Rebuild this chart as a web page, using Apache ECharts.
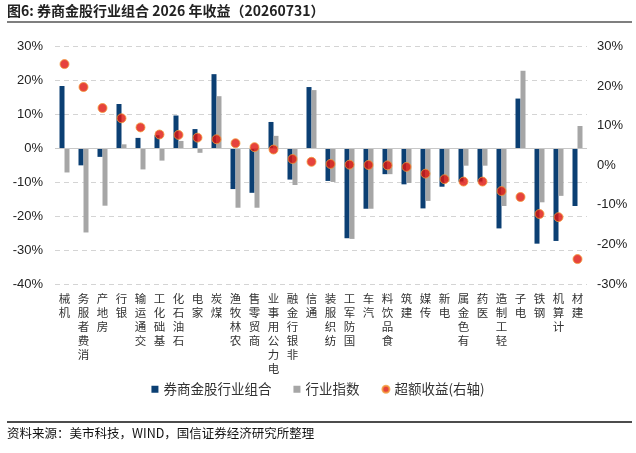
<!DOCTYPE html>
<html>
<head>
<meta charset="utf-8">
<script src="https://cdn.jsdelivr.net/npm/echarts@6/dist/echarts.min.js"></script>
<style>
html,body{margin:0;padding:0;background:#fff;}
#chart{width:636px;height:453px;}
</style>
</head>
<body>
<div id="chart"></div>
<script>
var categories = ['机械','消费者服务','房地产','银行','交通运输','基础化工','石油石化','家电','煤炭','农林牧渔','商贸零售','电力公用事业','非银行金融','通信','纺织服装','国防军工','汽车','食品饮料','建筑','传媒','电新','有色金属','医药','轻工制造','电子','钢铁','计算机','建材'];
var portfolioReturn = [18.4,-5.0,-2.5,13.1,3.1,3.9,9.7,5.7,21.9,-12.0,-13.1,7.8,-9.2,18.1,-9.6,-26.5,-17.8,-7.6,-10.6,-17.7,-11.3,-9.8,-9.8,-23.6,14.7,-28.1,-27.3,-17.0];
var indexReturn = [-7.1,-24.8,-16.9,1.2,-6.2,-3.6,2.2,-1.3,15.4,-17.5,-17.5,3.7,-10.8,17.2,-9.9,-26.7,-17.8,-7.6,-10.2,-15.5,-9.8,-5.1,-5.1,-17.0,22.9,-15.9,-14.0,6.6];
var excessReturn = [25.6,19.8,14.5,11.9,9.6,7.8,7.7,7.0,6.6,5.6,4.6,4.0,1.6,0.9,0.35,0.17,0.1,0.0,-0.4,-2.1,-3.5,-4.1,-4.1,-6.5,-8.0,-12.3,-13.1,-23.7];
var seriesNames = ['券商金股行业组合','行业指数','超额收益(右轴)'];
var leftTicks = {min:-40, max:30, interval:10};
var rightTicks = {min:-30, max:30, interval:10};

var chart = echarts.init(document.getElementById('chart'));
var cjk = '"Noto Sans CJK SC", "Noto Sans", sans-serif';
var num = '"Liberation Sans", Arial, sans-serif';
chart.setOption({
  animation:false,
  backgroundColor:'#fff',
  graphic:[
    {type:'text', left:7, top:4, style:{text:'图6: 券商金股行业组合 2026 年收益（20260731）', font:'bold 14px '+cjk, fill:'#222'}},
    {type:'line', shape:{x1:7,y1:22,x2:632,y2:22}, style:{stroke:'#555', lineWidth:1.5}},
    {type:'line', shape:{x1:7,y1:422,x2:632,y2:422}, style:{stroke:'#111', lineWidth:1.5}},
    {type:'text', left:7, top:427, style:{text:'资料来源：美市科技，WIND，国信证券经济研究所整理', font:'12.5px '+cjk, fill:'#111'}}
  ],
  grid:{left:55, right:49, top:46.7, bottom:169},
  legend:{
    bottom:52, left:'center', itemWidth:7, itemHeight:7, itemGap:22,
    textStyle:{fontFamily:cjk, fontSize:13.5, color:'#333'},
    data:[
      {name:seriesNames[0], icon:'rect'},
      {name:seriesNames[1], icon:'rect'},
      {name:seriesNames[2], icon:'circle'}
    ]
  },
  xAxis:{
    type:'category', data:categories,
    axisLine:{show:false}, axisTick:{show:false},
    axisLabel:{
      interval:0, margin:8, fontFamily:cjk, fontSize:11.5, lineHeight:14, color:'#333', verticalAlign:'top',
      formatter:function(v){return v.split('').reverse().join('\n');}
    }
  },
  yAxis:[
    {type:'value', min:leftTicks.min, max:leftTicks.max, interval:leftTicks.interval,
     axisLine:{show:false}, axisTick:{show:false},
     axisLabel:{formatter:'{value}%', fontFamily:num, fontSize:13, color:'#222', margin:12},
     splitLine:{lineStyle:{type:[5,4], color:'#d4d4d4'}}},
    {type:'value', min:rightTicks.min, max:rightTicks.max, interval:rightTicks.interval,
     axisLine:{show:false}, axisTick:{show:false},
     axisLabel:{formatter:'{value}%', fontFamily:num, fontSize:13, color:'#222', margin:10},
     splitLine:{show:false}}
  ],
  series:[
    {name:seriesNames[0], type:'bar', data:portfolioReturn, barWidth:5, barGap:'0%',
     itemStyle:{color:'#0b3f73'},
     markLine:{silent:true, symbol:'none', label:{show:false}, lineStyle:{type:'solid', color:'#c8c8c8', width:1},
       data:[{yAxis:0}]}},
    {name:seriesNames[1], type:'bar', data:indexReturn, barWidth:5, barGap:'0%',
     itemStyle:{color:'#a6a6a6'}},
    {name:seriesNames[2], type:'scatter', yAxisIndex:1, data:excessReturn, symbolSize:9,
     itemStyle:{color:'#e0140c', borderColor:'#f29b38', borderWidth:1}, z:5}
  ]
});
</script>
</body>
</html>
